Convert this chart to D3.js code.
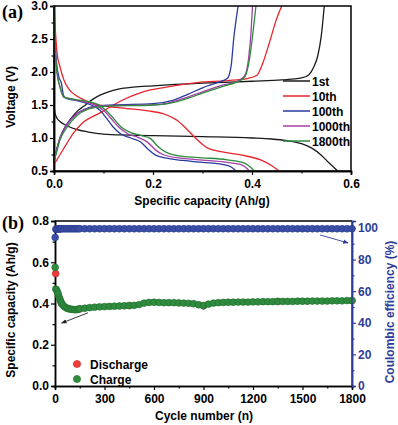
<!DOCTYPE html>
<html>
<head>
<meta charset="utf-8">
<script src="https://cdn.jsdelivr.net/npm/d3@7"></script>
<style>
  body { margin: 0; background: #fff; }
  text { font-family: "Liberation Sans", Arial, sans-serif; font-weight: bold; }
</style>
</head>
<body>
<script>
// ---- panel (a) : charge / discharge profiles, [capacity (Ah/g), voltage (V)]
var cycleNames = ["1st", "10th", "100th", "1000th", "1800th"];
var cycleColors = ["#1a1a1a", "#e8242c", "#2b3a9e", "#a43fa6", "#2e8b3e"];

var dis1st = [[0,1.5],[0.002,1.38],[0.006,1.3],[0.012,1.25],[0.025,1.19],[0.045,1.13],[0.07,1.09],[0.1,1.06],[0.15,1.045],[0.2,1.035],[0.3,1.02],[0.4,1.0],[0.44,0.985],[0.47,0.96],[0.5,0.915],[0.52,0.85],[0.54,0.74],[0.556,0.62],[0.573,0.5]];
var chg1st = [[0,0.65],[0.008,0.9],[0.018,1.1],[0.032,1.27],[0.046,1.4],[0.06,1.48],[0.075,1.57],[0.093,1.65],[0.11,1.7],[0.13,1.74],[0.16,1.77],[0.2,1.79],[0.3,1.83],[0.4,1.86],[0.46,1.88],[0.5,1.91],[0.515,1.96],[0.525,2.08],[0.533,2.25],[0.54,2.55],[0.546,3.0]];

var dis10th = [[0,3.0],[0.003,2.6],[0.006,2.3],[0.012,2.08],[0.02,1.88],[0.03,1.74],[0.045,1.64],[0.06,1.58],[0.09,1.5],[0.13,1.46],[0.19,1.41],[0.22,1.37],[0.25,1.26],[0.27,1.12],[0.29,0.97],[0.31,0.85],[0.34,0.79],[0.38,0.74],[0.42,0.66],[0.44,0.58],[0.455,0.5]];
var chg10th = [[0,0.6],[0.01,0.72],[0.026,0.92],[0.04,1.08],[0.058,1.23],[0.093,1.38],[0.12,1.5],[0.14,1.58],[0.18,1.7],[0.227,1.77],[0.29,1.84],[0.35,1.87],[0.39,1.9],[0.41,1.95],[0.42,2.1],[0.435,2.44],[0.449,2.79],[0.46,3.0]];

var dis100th = [[0,3.0],[0.002,2.5],[0.005,2.15],[0.01,1.92],[0.015,1.83],[0.019,1.65],[0.025,1.6],[0.05,1.56],[0.075,1.5],[0.093,1.42],[0.106,1.3],[0.119,1.17],[0.135,1.06],[0.155,1.0],[0.175,0.94],[0.19,0.83],[0.205,0.74],[0.23,0.69],[0.26,0.66],[0.3,0.63],[0.34,0.6],[0.358,0.56],[0.368,0.5]];
var chg100th = [[0,0.65],[0.005,0.8],[0.012,1.0],[0.025,1.2],[0.04,1.33],[0.06,1.43],[0.08,1.48],[0.12,1.5],[0.2,1.52],[0.24,1.57],[0.27,1.66],[0.3,1.76],[0.33,1.84],[0.35,1.9],[0.358,2.1],[0.363,2.5],[0.368,2.8],[0.372,3.0]];

var dis1000th = [[0,3.0],[0.002,2.4],[0.006,2.0],[0.012,1.78],[0.02,1.62],[0.03,1.6],[0.055,1.56],[0.08,1.51],[0.1,1.42],[0.115,1.3],[0.13,1.17],[0.15,1.06],[0.17,1.01],[0.19,0.93],[0.205,0.82],[0.22,0.75],[0.26,0.69],[0.3,0.665],[0.35,0.63],[0.38,0.59],[0.395,0.5]];
var chg1000th = [[0,0.65],[0.005,0.8],[0.012,1.0],[0.025,1.19],[0.045,1.36],[0.07,1.45],[0.1,1.49],[0.2,1.5],[0.23,1.53],[0.27,1.62],[0.3,1.7],[0.34,1.8],[0.37,1.86],[0.385,1.94],[0.393,2.2],[0.398,2.6],[0.401,3.0]];

var dis1800th = [[0,3.0],[0.002,2.4],[0.006,2.0],[0.012,1.77],[0.02,1.62],[0.03,1.6],[0.055,1.57],[0.085,1.52],[0.105,1.42],[0.12,1.3],[0.135,1.17],[0.155,1.08],[0.175,1.04],[0.195,0.99],[0.21,0.87],[0.225,0.79],[0.26,0.72],[0.3,0.7],[0.35,0.67],[0.385,0.62],[0.405,0.5]];
var chg1800th = [[0,0.65],[0.005,0.78],[0.012,0.97],[0.025,1.15],[0.045,1.33],[0.07,1.44],[0.1,1.48],[0.2,1.5],[0.23,1.52],[0.27,1.6],[0.3,1.68],[0.34,1.78],[0.37,1.85],[0.385,1.92],[0.395,2.2],[0.402,2.6],[0.408,3.0]];

// ---- panel (b) : cycling
var cycles = [1,5,10,15,20,25,30,35,40,50,60,70,80,90,100,110,120,130,140,150,
  180,210,240,270,300,330,360,390,420,450,480,510,540,570,600,630,660,690,720,750,
  780,810,840,870,900,930,960,990,1020,1050,1080,1110,1140,1170,1200,1230,1260,1290,1320,1350,
  1380,1410,1440,1470,1500,1530,1560,1590,1620,1650,1680,1710,1740,1770,1800];
var chargeCap = [0.575,0.47,0.465,0.455,0.445,0.43,0.42,0.41,0.40,0.39,0.383,0.378,0.375,0.373,0.372,0.371,0.37,0.37,0.372,0.374,
  0.377,0.38,0.382,0.384,0.385,0.386,0.387,0.388,0.389,0.39,0.391,0.395,0.402,0.405,0.406,0.405,0.404,0.404,0.404,0.403,
  0.402,0.401,0.399,0.394,0.389,0.397,0.402,0.404,0.405,0.406,0.406,0.407,0.407,0.407,0.408,0.408,0.409,0.409,0.409,0.41,
  0.41,0.41,0.41,0.411,0.411,0.411,0.412,0.412,0.412,0.412,0.413,0.413,0.413,0.414,0.414];
var dischargeCycles = [4, 40, 150, 450, 900, 1350, 1800];
var dischargeCap = [0.545, 0.40, 0.374, 0.39, 0.389, 0.41, 0.414];
var efficiency = [94.0,99.2,99.3,99.4,99.4,99.4,99.5,99.5,99.5,99.5,99.5,99.5,99.5,99.5,99.5,99.5,99.5,99.5,99.5,99.5,
  99.5,99.5,99.5,99.5,99.5,99.5,99.5,99.5,99.5,99.5,99.5,99.5,99.5,99.5,99.5,99.5,99.5,99.5,99.5,99.5,
  99.5,99.5,99.5,99.5,99.5,99.5,99.5,99.5,99.5,99.5,99.5,99.5,99.5,99.5,99.5,99.5,99.5,99.5,99.5,99.5,
  99.5,99.5,99.5,99.5,99.5,99.5,99.5,99.5,99.5,99.5,99.5,99.5,99.5,99.5,99.5];

var width = 398, height = 425;
var blue = "#2e3d98";

var svg = d3.select("body").append("svg")
    .attr("width", width)
    .attr("height", height);

function styleAxis(g, color) {
    g.selectAll("path").attr("stroke", color).attr("stroke-width", 1.5);
    g.selectAll("line").attr("stroke", color).attr("stroke-width", 1.2);
    g.selectAll("text").attr("fill", color).style("font-size", "12px");
}

// ================= panel (a)
var xa = d3.scaleLinear().domain([0, 0.6]).range([54, 351]);
var ya = d3.scaleLinear().domain([0.5, 3.0]).range([171, 6]);

svg.append("g").attr("transform", "translate(0,171)")
    .call(d3.axisBottom(xa).tickValues([0.1, 0.3, 0.5]).tickSize(2.5).tickFormat(""))
    .call(g => styleAxis(g, "#000"));
svg.append("g").attr("transform", "translate(0,171)")
    .call(d3.axisBottom(xa).tickValues([0, 0.2, 0.4, 0.6]).tickSize(4).tickPadding(4.5).tickFormat(d3.format(".1f")))
    .call(g => styleAxis(g, "#000"));
svg.append("g").attr("transform", "translate(54,0)")
    .call(d3.axisLeft(ya).tickValues([0.75, 1.25, 1.75, 2.25, 2.75]).tickSize(2.5).tickFormat(""))
    .call(g => styleAxis(g, "#000"));
svg.append("g").attr("transform", "translate(54,0)")
    .call(d3.axisLeft(ya).tickValues([0.5, 1.0, 1.5, 2.0, 2.5, 3.0]).tickSize(4).tickPadding(2).tickFormat(d3.format(".1f")))
    .call(g => styleAxis(g, "#000"));

var lineA = d3.line()
    .x(function (d) { return xa(d[0]); })
    .y(function (d) { return ya(d[1]); })
    .curve(d3.curveMonotoneX);

var profiles = [[dis1st, chg1st], [dis10th, chg10th], [dis100th, chg100th], [dis1000th, chg1000th], [dis1800th, chg1800th]];
var plotA = svg.append("g");
profiles.forEach(function (p, i) {
    p.forEach(function (curve) {
        plotA.append("path")
            .attr("d", lineA(curve))
            .attr("fill", "none")
            .attr("stroke", cycleColors[i])
            .attr("stroke-width", 1.3);
    });
});

// frame
svg.append("rect").attr("x", 54).attr("y", 6).attr("width", 297).attr("height", 165)
    .attr("fill", "none").attr("stroke", "#000").attr("stroke-width", 1.5);

// legend
cycleNames.forEach(function (n, i) {
    var yy = 81 + i * 15;
    svg.append("line").attr("x1", 283).attr("x2", 310).attr("y1", yy).attr("y2", yy)
        .attr("stroke", cycleColors[i]).attr("stroke-width", 1.5);
    svg.append("text").attr("x", 312).attr("y", yy + 4.5).text(n).style("font-size", "12px");
});

svg.append("text").attr("x", 202).attr("y", 205).attr("text-anchor", "middle")
    .style("font-size", "12px").text("Specific capacity (Ah/g)");
svg.append("text").attr("transform", "translate(15,97) rotate(-90)").attr("text-anchor", "middle")
    .style("font-size", "12px").text("Voltage (V)");
svg.append("text").attr("x", 2).attr("y", 18)
    .style("font-family", "'Liberation Serif', 'Times New Roman', serif").style("font-size", "18px").text("(a)");

// ================= panel (b)
var xb = d3.scaleLinear().domain([0, 1800]).range([55, 352]);
var yb = d3.scaleLinear().domain([0, 0.8]).range([386, 221]);
var yr = d3.scaleLinear().domain([0, 104.4]).range([386, 221]);

svg.append("g").attr("transform", "translate(0,386)")
    .call(d3.axisBottom(xb).tickValues([150, 450, 750, 1050, 1350, 1650]).tickSize(2.5).tickFormat(""))
    .call(g => styleAxis(g, "#000"));
svg.append("g").attr("transform", "translate(0,386)")
    .call(d3.axisBottom(xb).tickValues([0, 300, 600, 900, 1200, 1500, 1800]).tickSize(4).tickPadding(4.5).tickFormat(d3.format("d")))
    .call(g => styleAxis(g, "#000"));
svg.append("g").attr("transform", "translate(55,0)")
    .call(d3.axisLeft(yb).tickValues([0.1, 0.3, 0.5, 0.7]).tickSize(2.5).tickFormat(""))
    .call(g => styleAxis(g, "#000"));
svg.append("g").attr("transform", "translate(55,0)")
    .call(d3.axisLeft(yb).tickValues([0, 0.2, 0.4, 0.6, 0.8]).tickSize(4).tickPadding(2).tickFormat(d3.format(".1f")))
    .call(g => styleAxis(g, "#000"));
svg.append("g").attr("transform", "translate(352,0)")
    .call(d3.axisRight(yr).tickValues([10, 30, 50, 70, 90]).tickSize(2.5).tickFormat(""))
    .call(g => styleAxis(g, blue));
svg.append("g").attr("transform", "translate(352,0)")
    .call(d3.axisRight(yr).tickValues([0, 20, 40, 60, 80, 100]).tickSize(4).tickPadding(2))
    .call(g => styleAxis(g, blue));

var plotB = svg.append("g");
// coulombic efficiency
plotB.selectAll(".ce").data(cycles).enter().append("circle")
    .attr("cx", function (d) { return xb(d); })
    .attr("cy", function (d, i) { return yr(efficiency[i]); })
    .attr("r", 3.4)
    .attr("fill", "#3b4fa8").attr("stroke", "#2a3a8c").attr("stroke-width", 0.6);
// discharge (mostly hidden under charge)
plotB.selectAll(".dis").data(dischargeCycles).enter().append("circle")
    .attr("cx", function (d) { return xb(d); })
    .attr("cy", function (d, i) { return yb(dischargeCap[i]); })
    .attr("r", 3.4)
    .attr("fill", "#ef3b3b").attr("stroke", "#c4242a").attr("stroke-width", 0.6);
// charge
plotB.selectAll(".chg").data(cycles).enter().append("circle")
    .attr("cx", function (d) { return xb(d); })
    .attr("cy", function (d, i) { return yb(chargeCap[i]); })
    .attr("r", 3.4)
    .attr("fill", "#2f8c3f").attr("stroke", "#1f6b2c").attr("stroke-width", 0.6);

// frame: top black, right blue
svg.append("line").attr("x1", 55).attr("x2", 352).attr("y1", 221).attr("y2", 221)
    .attr("stroke", "#000").attr("stroke-width", 1.5);
svg.append("line").attr("x1", 352).attr("x2", 352).attr("y1", 221).attr("y2", 386)
    .attr("stroke", blue).attr("stroke-width", 1.5);

// arrows
var defs = svg.append("defs");
[["arrBlack", "#222"], ["arrBlue", blue]].forEach(function (a) {
    defs.append("marker").attr("id", a[0]).attr("viewBox", "0 0 10 10")
        .attr("refX", 9).attr("refY", 5).attr("markerWidth", 6).attr("markerHeight", 6)
        .attr("orient", "auto")
        .append("path").attr("d", "M0,1L10,5L0,9Z").attr("fill", a[1]);
});
svg.append("line")
    .attr("x1", xb(200)).attr("y1", yb(0.355)).attr("x2", xb(40)).attr("y2", yb(0.305))
    .attr("stroke", "#222").attr("stroke-width", 0.9).attr("marker-end", "url(#arrBlack)");
svg.append("line")
    .attr("x1", xb(1606)).attr("y1", yr(95.6)).attr("x2", xb(1776)).attr("y2", yr(90.5))
    .attr("stroke", blue).attr("stroke-width", 0.9).attr("marker-end", "url(#arrBlue)");

// legend
[["Discharge", "#ef3b3b", "#c4242a"], ["Charge", "#2f8c3f", "#1f6b2c"]].forEach(function (l, i) {
    var yy = 364 + i * 15;
    svg.append("circle").attr("cx", 77).attr("cy", yy).attr("r", 3.6)
        .attr("fill", l[1]).attr("stroke", l[2]).attr("stroke-width", 0.6);
    svg.append("text").attr("x", 90).attr("y", yy + 4.5).style("font-size", "12px").text(l[0]);
});

svg.append("text").attr("x", 204).attr("y", 420).attr("text-anchor", "middle")
    .style("font-size", "12px").text("Cycle number (n)");
svg.append("text").attr("transform", "translate(15,310) rotate(-90)").attr("text-anchor", "middle")
    .style("font-size", "12px").text("Specific capacity (Ah/g)");
svg.append("text").attr("transform", "translate(394,312) rotate(-90)").attr("text-anchor", "middle")
    .attr("fill", blue).style("font-size", "12px").text("Coulombic efficiency (%)");
svg.append("text").attr("x", 2).attr("y", 229)
    .style("font-family", "'Liberation Serif', 'Times New Roman', serif").style("font-size", "18px").text("(b)");
</script>
</body>
</html>
